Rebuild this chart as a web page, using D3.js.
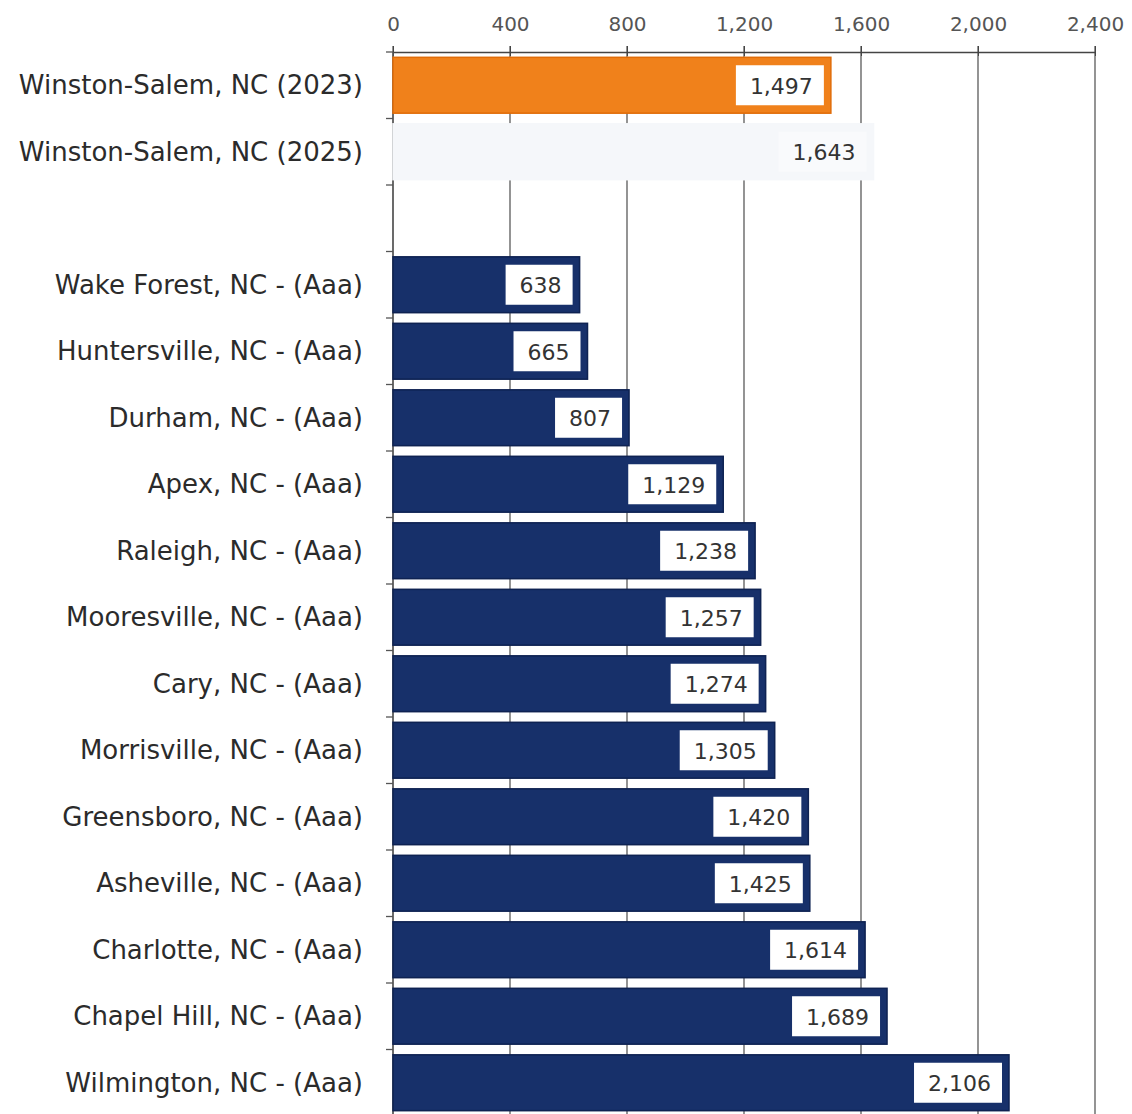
<!DOCTYPE html>
<html><head><meta charset="utf-8">
<script src="https://cdn.jsdelivr.net/npm/d3@7"></script>
<style>body{margin:0;background:#fff}svg{display:block}</style>
</head><body>
<svg id="c" width="1132" height="1114"></svg>
<script>
const categories = ["Winston-Salem, NC (2023)","Winston-Salem, NC (2025)","","Wake Forest, NC - (Aaa)","Huntersville, NC - (Aaa)","Durham, NC - (Aaa)","Apex, NC - (Aaa)","Raleigh, NC - (Aaa)","Mooresville, NC - (Aaa)","Cary, NC - (Aaa)","Morrisville, NC - (Aaa)","Greensboro, NC - (Aaa)","Asheville, NC - (Aaa)","Charlotte, NC - (Aaa)","Chapel Hill, NC - (Aaa)","Wilmington, NC - (Aaa)"];
const values = [1497,1643,null,638,665,807,1129,1238,1257,1274,1305,1420,1425,1614,1689,2106];
const groups = ["ws2023","ws2025","blank","peer","peer","peer","peer","peer","peer","peer","peer","peer","peer","peer","peer","peer"];
const tickValues = [0,400,800,1200,1600,2000,2400];

const fills = {ws2023:"#f0811b", ws2025:"#f5f7fa", peer:"#17306a"};
const strokes = {ws2023:"#e06c08", ws2025:"#f5f7fa", peer:"#0e2252"};

const keys = categories.map((c,i)=> c === "" ? "__blank" : c);
const data = keys.map((k,i)=>({key:k, label:categories[i], value:values[i], group:groups[i]}));

const svg = d3.select("#c");
const x = d3.scaleLinear().domain([0,2400]).range([393,1095]);
const y = d3.scaleBand().domain(keys).range([52,1116]).paddingInner(0.16).paddingOuter(0.08);

const fmt = d3.format(",");

// gridlines
svg.append("g").selectAll("line").data(tickValues).join("line")
  .attr("x1",d=>x(d)).attr("x2",d=>x(d)).attr("y1",46).attr("y2",1114)
  .attr("stroke","#5a5a5a").attr("stroke-width",1.3);

// top axis
const xAxis = d3.axisTop(x).tickValues(tickValues).tickFormat(d=>fmt(d)).tickSizeInner(6).tickSizeOuter(0).tickPadding(15);
const gx = svg.append("g").attr("transform","translate(0,52)").call(xAxis);
gx.select(".domain").attr("stroke","#444").attr("stroke-width",1.3);
gx.selectAll(".tick line").attr("stroke","#444").attr("y2",4).attr("y1",-6);
gx.selectAll(".tick text").attr("font-family","DejaVu Sans").attr("font-size",20).attr("fill","#555");

// left axis line + ticks at band boundaries
svg.append("line").attr("x1",393).attr("x2",393).attr("y1",52).attr("y2",1114).attr("stroke","#555").attr("stroke-width",1.3);
const step = y.step();
const bounds = d3.range(keys.length+1).map(i=> y.range()[0] + i*step);
svg.append("g").selectAll("line").data(bounds).join("line")
  .attr("x1",386).attr("x2",393).attr("y1",d=>d).attr("y2",d=>d)
  .attr("stroke","#555").attr("stroke-width",1.3);

// bars
const bars = data.filter(d=>d.value!=null);
svg.append("g").selectAll("rect").data(bars).join("rect")
  .attr("x",x(0)).attr("y",d=>y(d.key))
  .attr("width",d=>x(d.value)-x(0)).attr("height",y.bandwidth())
  .attr("fill",d=>fills[d.group]).attr("stroke",d=>strokes[d.group]).attr("stroke-width",1.5);

// category labels
svg.append("g").selectAll("text").data(data).join("text")
  .attr("x",363).attr("y",d=>y(d.key)+y.bandwidth()/2)
  .attr("text-anchor","end").attr("dominant-baseline","central")
  .attr("font-family","DejaVu Sans").attr("font-size",26).attr("fill","#2b2b2b")
  .text(d=>d.label);

// value labels with white boxes
const lg = svg.append("g").selectAll("g").data(bars).join("g");
lg.each(function(d){
  const g = d3.select(this);
  const cy = y(d.key)+y.bandwidth()/2;
  const right = x(d.value)-7;
  const t = g.append("text").attr("x",right-11).attr("y",cy+1)
    .attr("text-anchor","end").attr("dominant-baseline","central")
    .attr("font-family","DejaVu Sans").attr("font-size",22).attr("fill","#333")
    .text(fmt(d.value));
  const w = t.node().getComputedTextLength();
  g.insert("rect","text").attr("x",right-w-25).attr("y",cy-20).attr("width",w+25).attr("height",40)
    .attr("fill", d.group==="ws2025" ? "#f9fafc" : "#fff");
});
</script>
</body></html>
